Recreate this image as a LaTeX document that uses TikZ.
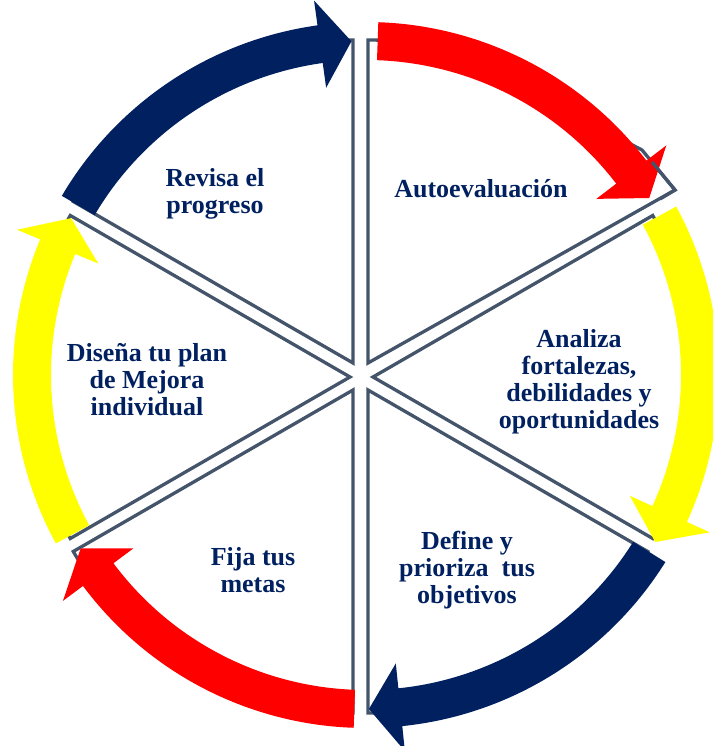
\documentclass[tikz,border=0pt]{standalone}
\usepackage{fontspec}
\setmainfont{Liberation Serif}
\definecolor{navy}{HTML}{002060}
\definecolor{slate}{HTML}{44546A}
\definecolor{myred}{HTML}{FF0000}
\definecolor{myyellow}{HTML}{FFFF00}
\newcommand\cyclearrow[3]{%
  \pgfmathsetmacro\barbang{#3+5.4}
  \fill[#1] (#2:353) arc[start angle=#2, end angle=\barbang, radius=353]
    -- (\barbang:378) -- (#3:334) -- (\barbang:290) -- (\barbang:315)
    arc[start angle=\barbang, end angle=#2, radius=315] -- cycle;
}
\begin{document}
\begin{tikzpicture}[x=1pt,y=1pt,
  sectorline/.style={draw=slate, line width=3.3pt, line join=miter},
  lbl/.style={text=navy, font=\bfseries\fontsize{26}{27}\selectfont, align=center, inner sep=0pt}]
\useasboundingbox (0,0) rectangle (713,746);
\clip (0,0) rectangle (713,746);
% sectors
\draw[sectorline] (368,383) -- ++(90:323) arc[start angle=90, end angle=50, radius=323] -- (642,596) -- (675,556) -- cycle;
\draw[sectorline] (373,369) -- ++(30:323) arc[start angle=30, end angle=-30, radius=323] -- cycle;
\draw[sectorline] (368,356) -- ++(-30:323) arc[start angle=-30, end angle=-90, radius=323] -- cycle;
\draw[sectorline] (353,356) -- ++(-90:323) arc[start angle=-90, end angle=-150, radius=323] -- cycle;
\draw[sectorline] (350,369) -- ++(-150:323) arc[start angle=-150, end angle=-210, radius=323] -- cycle;
\draw[sectorline] (353,383) -- ++(150:323) arc[start angle=150, end angle=90, radius=323] -- cycle;
% arrows
\begin{scope}[shift={(366,371)}]
  \cyclearrow{myred}{88}{32}
  \cyclearrow{myyellow}{28.5}{-30}
  \cyclearrow{navy}{-32}{-89.5}
  \cyclearrow{myred}{-92}{-148.7}
  \cyclearrow{myyellow}{-151.5}{-208}
  \cyclearrow{navy}{-210.5}{-267.5}
\end{scope}
\draw[sectorline] (652,584) -- (675,556) -- (660,547);
% labels
\node[lbl] (revisa) at (215,552) {Revisa el\\progreso};
\node[lbl] (auto) at (481,557) {Autoevaluación};
\node[lbl] (analiza) at (579,364) {Analiza\\fortalezas,\\debilidades y\\oportunidades};
\node[lbl] (define) at (467,176) {Define y\\prioriza\ \ tus\\objetivos};
\node[lbl] (fija) at (253,176) {Fija tus\\metas};
\node[lbl] (disena) at (147,366) {Diseña tu plan\\de Mejora\\individual};
\end{tikzpicture}
\end{document}
